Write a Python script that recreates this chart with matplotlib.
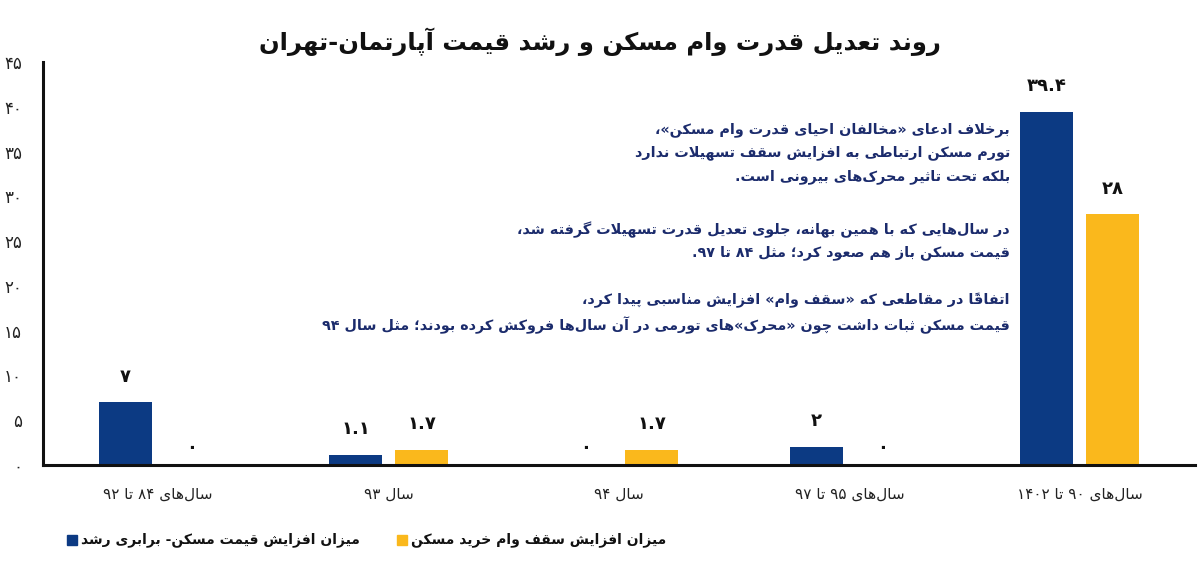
import matplotlib
matplotlib.use("Agg")
import matplotlib.pyplot as plt
from matplotlib.patches import Rectangle
import numpy as np

# --- data -------------------------------------------------------------
categories = ["سال‌های 84 تا 92", "سال 93", "سال 94", "سال‌های 95 تا 97", "سال‌های 90 تا 1402"]
price_growth = [7, 1.1, 0, 2, 39.4]      # blue
loan_growth = [0, 1.7, 1.7, 0, 28]       # yellow
series_names = ["میزان افزایش قیمت مسکن- برابری رشد", "میزان افزایش سقف وام خرید مسکن"]
yticks = [0, 5, 10, 15, 20, 25, 30, 35, 40, 45]

title = "روند تعدیل قدرت وام مسکن و رشد قیمت آپارتمان-تهران"
note_lines = [
    "برخلاف ادعای «مخالفان احیای قدرت وام مسکن»،",
    "تورم مسکن ارتباطی به افزایش سقف تسهیلات ندارد",
    "بلکه تحت تاثیر محرک‌های بیرونی است.",
    "در سال‌هایی که با همین بهانه، جلوی تعدیل قدرت تسهیلات گرفته شد،",
    "قیمت مسکن باز هم صعود کرد؛ مثل 84 تا 97.",
    "اتفاقاً در مقاطعی که «سقف وام» افزایش مناسبی پیدا کرد،",
    "قیمت مسکن ثبات داشت چون «محرک»های تورمی در آن سال‌ها فروکش کرده بودند؛ مثل سال 94",
]
note_y = [130, 153, 177, 230, 253, 300, 325]  # pixel rows of the note lines

BLUE = "#0c3a83"
YELLOW = "#fab81c"
NAVY = "#1b2b6c"

# --- minimal persian shaping + bidi (no arabic_reshaper available) -----
FORMS = {  # isolated, final, initial, medial
    "\u0627": (0xFE8D, 0xFE8E, None, None),
    "\u0622": (0xFE81, 0xFE82, None, None),
    "\u0623": (0xFE83, 0xFE84, None, None),
    "\u0628": (0xFE8F, 0xFE90, 0xFE91, 0xFE92),
    "\u067E": (0xFB56, 0xFB57, 0xFB58, 0xFB59),
    "\u062A": (0xFE95, 0xFE96, 0xFE97, 0xFE98),
    "\u062B": (0xFE99, 0xFE9A, 0xFE9B, 0xFE9C),
    "\u062C": (0xFE9D, 0xFE9E, 0xFE9F, 0xFEA0),
    "\u0686": (0xFB7A, 0xFB7B, 0xFB7C, 0xFB7D),
    "\u062D": (0xFEA1, 0xFEA2, 0xFEA3, 0xFEA4),
    "\u062E": (0xFEA5, 0xFEA6, 0xFEA7, 0xFEA8),
    "\u062F": (0xFEA9, 0xFEAA, None, None),
    "\u0630": (0xFEAB, 0xFEAC, None, None),
    "\u0631": (0xFEAD, 0xFEAE, None, None),
    "\u0632": (0xFEAF, 0xFEB0, None, None),
    "\u0698": (0xFB8A, 0xFB8B, None, None),
    "\u0633": (0xFEB1, 0xFEB2, 0xFEB3, 0xFEB4),
    "\u0634": (0xFEB5, 0xFEB6, 0xFEB7, 0xFEB8),
    "\u0635": (0xFEB9, 0xFEBA, 0xFEBB, 0xFEBC),
    "\u0636": (0xFEBD, 0xFEBE, 0xFEBF, 0xFEC0),
    "\u0637": (0xFEC1, 0xFEC2, 0xFEC3, 0xFEC4),
    "\u0638": (0xFEC5, 0xFEC6, 0xFEC7, 0xFEC8),
    "\u0639": (0xFEC9, 0xFECA, 0xFECB, 0xFECC),
    "\u063A": (0xFECD, 0xFECE, 0xFECF, 0xFED0),
    "\u0641": (0xFED1, 0xFED2, 0xFED3, 0xFED4),
    "\u0642": (0xFED5, 0xFED6, 0xFED7, 0xFED8),
    "\u06A9": (0xFB8E, 0xFB8F, 0xFB90, 0xFB91),
    "\u06AF": (0xFB92, 0xFB93, 0xFB94, 0xFB95),
    "\u0644": (0xFEDD, 0xFEDE, 0xFEDF, 0xFEE0),
    "\u0645": (0xFEE1, 0xFEE2, 0xFEE3, 0xFEE4),
    "\u0646": (0xFEE5, 0xFEE6, 0xFEE7, 0xFEE8),
    "\u0648": (0xFEED, 0xFEEE, None, None),
    "\u0647": (0xFEE9, 0xFEEA, 0xFEEB, 0xFEEC),
    "\u06CC": (0xFBFC, 0xFBFD, 0xFBFE, 0xFBFF),
    "\u064A": (0xFEF1, 0xFEF2, 0xFEF3, 0xFEF4),
    "\ue000": (0xFEFB, 0xFEFC, None, None),  # lam-alef
    "\ue001": (0xFEF5, 0xFEF6, None, None),  # lam-alef madda
}
TRANSPARENT = set("\u064B\u064C\u064D\u064E\u064F\u0650\u0651\u0652")
DIGITS = set("۰۱۲۳۴۵۶۷۸۹")
MIRROR = {"«": "»", "»": "«", "(": ")", ")": "("}


def fa_digits(s):
    return s.translate(str.maketrans("0123456789", "۰۱۲۳۴۵۶۷۸۹"))


def shape(s):
    s = s.replace("\u0644\u0627", "\ue000").replace("\u0644\u0622", "\ue001")
    chars = list(s)
    out = []
    for i, c in enumerate(chars):
        if c not in FORMS:
            if c != "\u200c":
                out.append(c)
            continue
        j = i - 1
        while j >= 0 and chars[j] in TRANSPARENT:
            j -= 1
        k = i + 1
        while k < len(chars) and chars[k] in TRANSPARENT:
            k += 1
        iso, fin, ini, med = FORMS[c]
        p = j >= 0 and chars[j] in FORMS and FORMS[chars[j]][2] is not None
        n = ini is not None and k < len(chars) and chars[k] in FORMS
        g = med if (p and n) else fin if p else ini if n else iso
        out.append(chr(g))
    return out


def rtl(s):
    glyphs = shape(fa_digits(s))
    clusters = []
    for c in glyphs:
        if c in TRANSPARENT and clusters:
            clusters[-1] += c
        else:
            clusters.append(c)
    tokens = []
    i = 0
    while i < len(clusters):
        if clusters[i] in DIGITS:
            j = i
            while j < len(clusters) and (clusters[j] in DIGITS or (
                    clusters[j] == "." and j + 1 < len(clusters) and clusters[j + 1] in DIGITS)):
                j += 1
            tokens.append("".join(clusters[i:j]))
            i = j
        else:
            tokens.append(MIRROR.get(clusters[i], clusters[i]))
            i += 1
    return "".join(reversed(tokens))


def fmt(v):
    return fa_digits(f"{v:g}")


# --- figure -----------------------------------------------------------
plt.rcParams["font.family"] = ["DejaVu Sans"]
W, H = 1200, 567
fig = plt.figure(figsize=(12, 5.67), dpi=100)
ax = fig.add_axes([43 / W, 1 - 465 / H, (1195 - 43) / W, (465 - 62) / H])

x = np.arange(len(categories))
bw = 0.23
off = 0.143
b1 = ax.bar(x - off, price_growth, bw, color=BLUE)
b2 = ax.bar(x + off, loan_growth, bw, color=YELLOW)

for bars, vals in ((b1, price_growth), (b2, loan_growth)):
    for rect, v in zip(bars, vals):
        ax.annotate(fmt(v), (rect.get_x() + rect.get_width() / 2, v),
                    xytext=(0, 12 if v > 0 else 6), textcoords="offset points",
                    ha="center", va="bottom", fontsize=13, fontweight="bold", color="#111111")

ax.set_xlim(-0.5, len(categories) - 0.5)
ax.set_ylim(0, 45)
ax.set_xticks(x)
ax.set_xticklabels([rtl(c) for c in categories], fontsize=11, color="#222222")
ax.set_yticks(yticks)
ax.set_yticklabels([fmt(t) for t in yticks], fontsize=12, color="#222222")
ax.tick_params(axis="both", length=0)
ax.tick_params(axis="x", pad=16)
ax.tick_params(axis="y", pad=15)
for s in ("top", "right"):
    ax.spines[s].set_visible(False)
for s in ("left", "bottom"):
    ax.spines[s].set_linewidth(2.2)
    ax.spines[s].set_color("#111111")

fig.text(600 / W, 1 - 42 / H, rtl(title), ha="center", va="center",
         fontsize=17.5, fontweight="bold", color="#111111")

for line, yy in zip(note_lines, note_y):
    fig.text(1010 / W, 1 - yy / H, rtl(line), ha="right", va="center",
             fontsize=10.4, fontweight="bold", color=NAVY)

# legend
for (sx, tx), col, name in zip(((67, 81), (397, 411)), (BLUE, YELLOW), series_names):
    fig.patches.append(Rectangle((sx / W, 1 - 545 / H), 10 / W, 10 / H,
                                 transform=fig.transFigure, color=col))
    fig.text(tx / W, 1 - 540 / H, rtl(name), ha="left", va="center",
             fontsize=10, fontweight="bold", color="#111111")

fig.savefig("out.png", dpi=100)
